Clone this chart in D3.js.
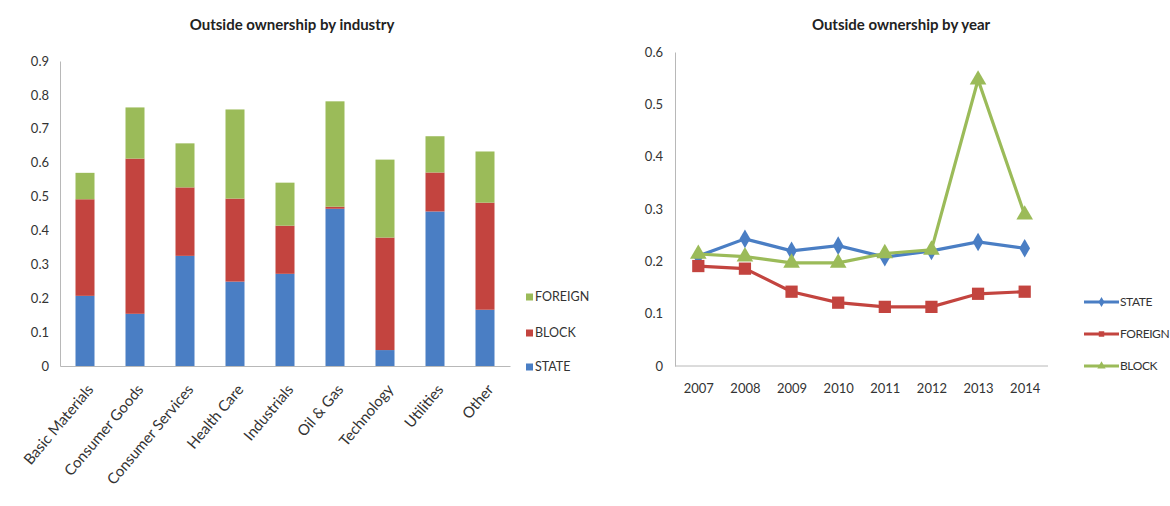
<!DOCTYPE html>
<html lang="en">

<head>
    <meta charset="UTF-8">
    <title>Outside ownership</title>
    <script src="https://d3js.org/d3.v7.min.js"></script>
    <style>
        body { margin: 0; background: #fff; }
        svg text { font-family: Lato, "Open Sans", sans-serif; fill: #333; }
        .title { font-weight: bold; font-size: 15px; fill: #222; }
        .tick text { font-size: 13px; }
        .legend text { font-size: 12.5px; }
    </style>
</head>

<body>
    <svg width="1170" height="506"></svg>
    <script>
        // industry chart
        const industries = ["Basic Materials", "Consumer Goods", "Consumer Services", "Health Care",
            "Industrials", "Oil & Gas", "Technology", "Utilities", "Other"];
        const stateShare = [0.207, 0.154, 0.325, 0.249, 0.272, 0.464, 0.047, 0.456, 0.166];
        const blockShare = [0.285, 0.458, 0.202, 0.245, 0.142, 0.006, 0.332, 0.115, 0.316];
        const foreignShare = [0.078, 0.151, 0.130, 0.263, 0.127, 0.311, 0.230, 0.107, 0.151];
        const industryTicks = [0, 0.1, 0.2, 0.3, 0.4, 0.5, 0.6, 0.7, 0.8, 0.9];

        // year chart
        const years = ["2007", "2008", "2009", "2010", "2011", "2012", "2013", "2014"];
        const stateByYear = [0.210, 0.243, 0.220, 0.230, 0.208, 0.220, 0.237, 0.225];
        const foreignByYear = [0.191, 0.186, 0.142, 0.121, 0.113, 0.113, 0.138, 0.142];
        const blockByYear = [0.214, 0.209, 0.197, 0.197, 0.215, 0.222, 0.547, 0.289];
        const yearTicks = [0, 0.1, 0.2, 0.3, 0.4, 0.5, 0.6];

        const blue = "#4a7ec4", red = "#c3443f", green = "#9bbb59";
        // the two charts do not use the same colour for FOREIGN / BLOCK
        const barColors = { STATE: blue, BLOCK: red, FOREIGN: green };
        const lineColors = { STATE: blue, FOREIGN: red, BLOCK: green };
        const axisColor = "#b8b8b8";
        const fmt = d => d === 0 ? "0" : d3.format(".1f")(d);

        const svg = d3.select("svg");

        // ---------- left: stacked bars ----------
        const left = svg.append("g");

        const x = d3.scaleBand()
            .domain(industries)
            .range([60, 510])
            .paddingInner(0.62)
            .paddingOuter(0.31);

        const y = d3.scaleLinear()
            .domain([0, 0.9])
            .range([366, 61]);

        const rows = industries.map((name, i) => ({
            name, STATE: stateShare[i], BLOCK: blockShare[i], FOREIGN: foreignShare[i]
        }));
        const stacked = d3.stack().keys(["STATE", "BLOCK", "FOREIGN"])(rows);

        left.append("g")
            .selectAll("g")
            .data(stacked)
            .enter().append("g")
            .attr("fill", d => barColors[d.key])
            .selectAll("rect")
            .data(d => d)
            .enter().append("rect")
            .attr("x", d => x(d.data.name))
            .attr("y", d => y(d[1]))
            .attr("width", x.bandwidth())
            .attr("height", d => y(d[0]) - y(d[1]));

        const yAxisL = left.append("g")
            .attr("transform", "translate(60,0)")
            .call(d3.axisLeft(y).tickValues(industryTicks).tickFormat(fmt).tickSize(0).tickPadding(11));
        yAxisL.select(".domain").attr("stroke", axisColor);

        const xAxisL = left.append("g")
            .attr("transform", "translate(0,366)")
            .call(d3.axisBottom(x).tickSize(0).tickSizeOuter(0));
        xAxisL.select(".domain").attr("stroke", axisColor);
        xAxisL.selectAll("text")
            .style("font-size", "15px")
            .attr("text-anchor", "end")
            .attr("dy", "0")
            .attr("transform", "translate(7,22) rotate(-50)");

        left.append("text")
            .attr("class", "title")
            .attr("x", 292)
            .attr("y", 30)
            .attr("text-anchor", "middle")
            .text("Outside ownership by industry");

        const legL = left.append("g").attr("class", "legend");
        [["FOREIGN", 297], ["BLOCK", 333], ["STATE", 367]].forEach(([k, cy]) => {
            legL.append("rect").attr("x", 526).attr("y", cy - 3.5).attr("width", 7).attr("height", 7).attr("fill", barColors[k]);
            legL.append("text").attr("x", 535).attr("y", cy).attr("dy", "0.35em").text(k);
        });

        // ---------- right: lines ----------
        const right = svg.append("g");

        const x2 = d3.scalePoint()
            .domain(years)
            .range([675, 1048])
            .padding(0.5);

        const y2 = d3.scaleLinear()
            .domain([0, 0.6])
            .range([366, 52]);

        const yAxisR = right.append("g")
            .attr("transform", "translate(675,0)")
            .call(d3.axisLeft(y2).tickValues(yearTicks).tickFormat(fmt).tickSize(0).tickPadding(12));
        yAxisR.select(".domain").attr("stroke", axisColor);

        const xAxisR = right.append("g")
            .attr("transform", "translate(0,366)")
            .call(d3.axisBottom(x2).tickSize(0).tickSizeOuter(0).tickPadding(18));
        xAxisR.select(".domain").attr("stroke", axisColor).attr("d", "M675,0H1048");

        const series = [
            { key: "STATE", values: stateByYear, symbol: d3.symbolDiamond, size: 100 },
            { key: "FOREIGN", values: foreignByYear, symbol: d3.symbolSquare, size: 150 },
            { key: "BLOCK", values: blockByYear, symbol: d3.symbolTriangle, size: 120 }
        ];

        const line = d3.line()
            .x((d, i) => x2(years[i]))
            .y(d => y2(d));

        series.forEach(s => {
            const g = right.append("g");
            g.append("path")
                .attr("d", line(s.values))
                .attr("fill", "none")
                .attr("stroke", lineColors[s.key])
                .attr("stroke-width", 3.2);
            g.selectAll("path.mark")
                .data(s.values)
                .enter().append("path")
                .attr("class", "mark")
                .attr("transform", (d, i) => `translate(${x2(years[i])},${y2(d)})`)
                .attr("d", d3.symbol().type(s.symbol).size(s.size))
                .attr("fill", lineColors[s.key]);
        });

        right.append("text")
            .attr("class", "title")
            .attr("x", 901)
            .attr("y", 30)
            .attr("text-anchor", "middle")
            .text("Outside ownership by year");

        const legR = right.append("g").attr("class", "legend");
        [[series[0], 302], [series[1], 334], [series[2], 366]].forEach(([s, cy]) => {
            legR.append("line").attr("x1", 1084).attr("x2", 1119).attr("y1", cy).attr("y2", cy)
                .attr("stroke", lineColors[s.key]).attr("stroke-width", 3);
            legR.append("path").attr("transform", `translate(1101.5,${cy})`)
                .attr("d", d3.symbol().type(s.symbol).size(30)).attr("fill", lineColors[s.key]);
            legR.append("text").attr("x", 1120).attr("y", cy).attr("dy", "0.35em")
                .style("font-size", "12px").style("letter-spacing", "-0.4px").text(s.key);
        });
    </script>
</body>

</html>
